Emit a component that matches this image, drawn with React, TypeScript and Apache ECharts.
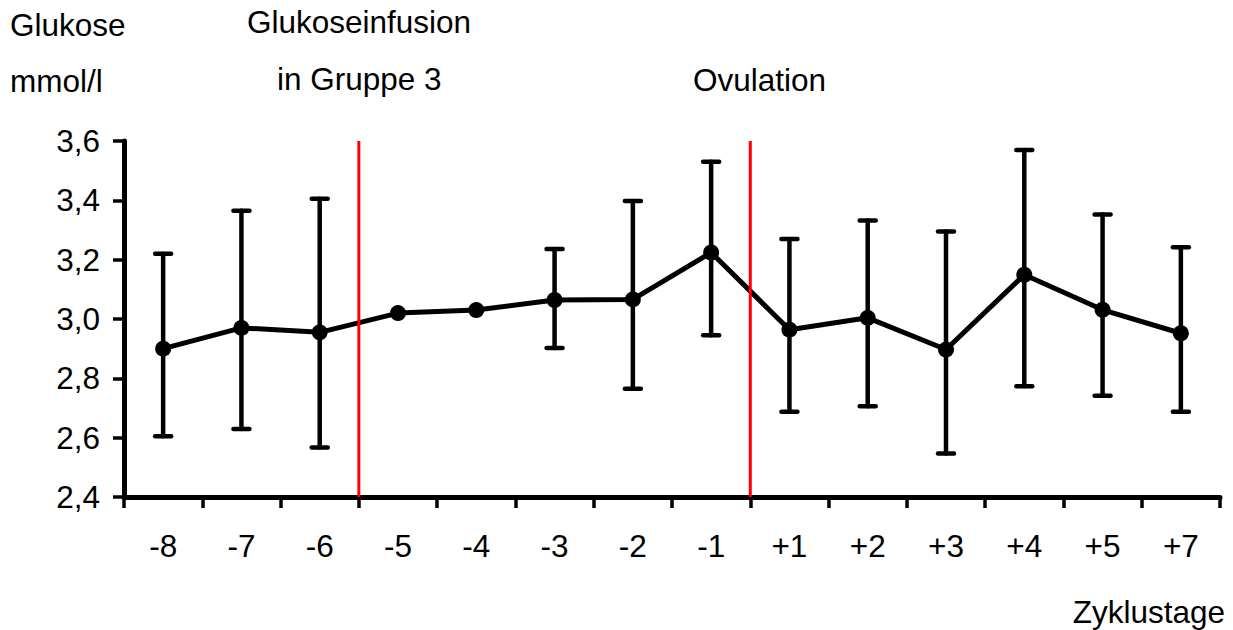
import React, { useEffect, useRef } from "react";
import * as echarts from "echarts";

const categories = ["-8", "-7", "-6", "-5", "-4", "-3", "-2", "-1", "+1", "+2", "+3", "+4", "+5", "+7"];
const means = [2.9, 2.97, 2.955, 3.02, 3.03, 3.064, 3.066, 3.224, 2.964, 3.004, 2.897, 3.149, 3.031, 2.952];
const upper = [3.22, 3.365, 3.405, null, null, 3.236, 3.398, 3.53, 3.27, 3.332, 3.295, 3.57, 3.352, 3.242];
const lower = [2.605, 2.629, 2.567, null, null, 2.902, 2.765, 2.945, 2.687, 2.706, 2.547, 2.773, 2.741, 2.687];
const markerBoundaries = [3, 8];
const yTicks = { min: 2.4, max: 3.6, interval: 0.2 };

const FONT = "'Liberation Sans', Arial, sans-serif";
const FS = 31.5;

export default function App() {
  const ref = useRef<HTMLDivElement>(null);
  useEffect(() => {
    if (!ref.current) return;
    const chart = echarts.init(ref.current, null, { renderer: "svg" });
    const errData = categories
      .map((c, i) => [i, lower[i], upper[i]])
      .filter((d) => d[1] != null && d[2] != null);
    const option: any = {
      animation: false,
      backgroundColor: "#ffffff",
      grid: { left: 124, right: 13, top: 141, bottom: 133 },
      xAxis: [
        {
          type: "category",
          data: categories,
          boundaryGap: true,
          axisLine: { lineStyle: { color: "#000", width: 5 } },
          axisTick: { show: true, length: 11, lineStyle: { color: "#000", width: 3.5 } },
          axisLabel: { color: "#000", fontSize: FS, fontFamily: FONT, margin: 33 },
        },
        {
          type: "value",
          min: 0,
          max: categories.length,
          show: false,
        },
      ],
      yAxis: {
        type: "value",
        min: yTicks.min,
        max: yTicks.max,
        interval: yTicks.interval,
        axisLine: { show: true, lineStyle: { color: "#000", width: 5 } },
        axisTick: { show: true, length: 11, lineStyle: { color: "#000", width: 3.5 } },
        splitLine: { show: false },
        axisLabel: {
          color: "#000",
          fontSize: FS,
          fontFamily: FONT,
          margin: 24,
          formatter: (v: number) => v.toFixed(1).replace(".", ","),
        },
      },
      series: [
        {
          type: "custom",
          xAxisIndex: 0,
          yAxisIndex: 0,
          z: 3,
          data: errData,
          renderItem: (params: any, api: any) => {
            const x = api.value(0);
            const lo = api.coord([x, api.value(1)]);
            const hi = api.coord([x, api.value(2)]);
            const hw = 8;
            const st = { stroke: "#000", lineWidth: 4.5, lineCap: "round" };
            return {
              type: "group",
              children: [
                { type: "line", shape: { x1: lo[0], y1: lo[1], x2: hi[0], y2: hi[1] }, style: st },
                { type: "line", shape: { x1: hi[0] - hw, y1: hi[1], x2: hi[0] + hw, y2: hi[1] }, style: st },
                { type: "line", shape: { x1: lo[0] - hw, y1: lo[1], x2: lo[0] + hw, y2: lo[1] }, style: st },
              ],
            };
          },
        },
        {
          type: "line",
          data: means,
          z: 4,
          symbol: "circle",
          symbolSize: 16,
          showSymbol: true,
          itemStyle: { color: "#000" },
          lineStyle: { color: "#000", width: 5 },
        },
        {
          type: "custom",
          xAxisIndex: 1,
          yAxisIndex: 0,
          z: 6,
          data: markerBoundaries.map((b) => [b]),
          renderItem: (params: any, api: any) => {
            const x = api.value(0);
            const top = api.coord([x, yTicks.max]);
            const bot = api.coord([x, yTicks.min]);
            return {
              type: "line",
              shape: { x1: top[0], y1: top[1], x2: bot[0], y2: bot[1] },
              style: { stroke: "#ff0000", lineWidth: 3 },
            };
          },
        },
      ],
      graphic: [
        { type: "text", left: 10, top: 24.5 - FS / 2, style: { text: "Glukose", fill: "#000", font: `${FS}px ${FONT}` } },
        { type: "text", left: 10, top: 81 - FS / 2, style: { text: "mmol/l", fill: "#000", font: `${FS}px ${FONT}` } },
        { type: "text", left: 247, top: 22 - FS / 2, style: { text: "Glukoseinfusion", fill: "#000", font: `${FS}px ${FONT}` } },
        { type: "text", left: 277, top: 79 - FS / 2, style: { text: "in Gruppe 3", fill: "#000", font: `${FS}px ${FONT}` } },
        { type: "text", left: 693, top: 80 - FS / 2, style: { text: "Ovulation", fill: "#000", font: `${FS}px ${FONT}` } },
        { type: "text", right: 8, top: 612 - FS / 2, style: { text: "Zyklustage", fill: "#000", font: `${FS}px ${FONT}` } },
      ],
    };
    chart.setOption(option);
    return () => chart.dispose();
  }, []);
  return (
    <div
      ref={ref}
      style={{ position: "fixed", left: 0, top: 0, width: 1233, height: 630, background: "#fff" }}
    />
  );
}
